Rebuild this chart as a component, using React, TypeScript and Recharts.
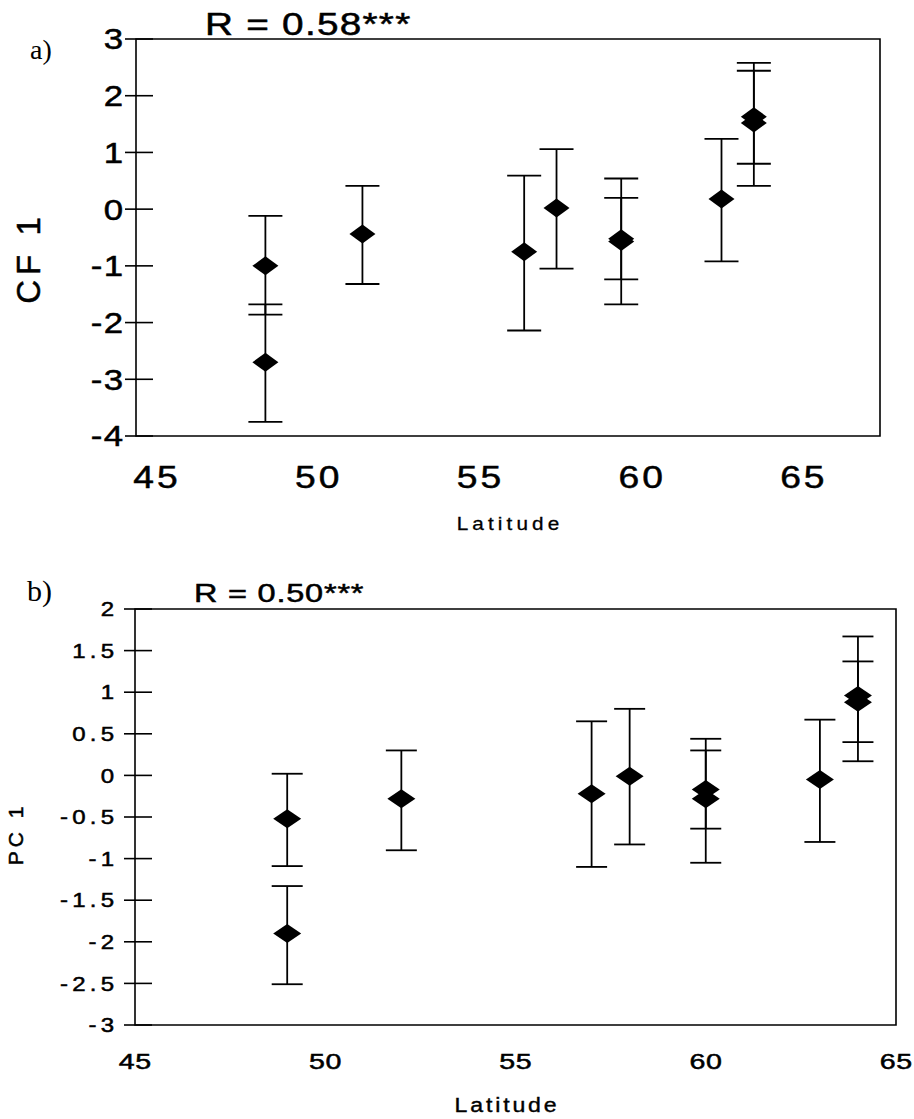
import React from 'react';
import { ScatterChart, Scatter, XAxis, YAxis, ErrorBar, ReferenceArea, Label } from 'recharts';

const SANS = '"Liberation Sans", Arial, Helvetica, sans-serif';
const SERIF = '"Liberation Serif", "Times New Roman", serif';

// ---- Panel a: CF 1 by latitude (mean with error bars) ----
const latA = [48.4, 48.4, 51.4, 56.4, 57.4, 59.4, 59.4, 62.5, 63.5, 63.5];
const cfA = [-1.0, -2.7, -0.44, -0.75, 0.02, -0.52, -0.57, 0.18, 1.63, 1.52];
const lowA = [-1.86, -3.75, -1.32, -2.14, -1.05, -1.24, -1.68, -0.92, 0.8, 0.41];
const highA = [-0.12, -1.68, 0.41, 0.59, 1.06, 0.2, 0.54, 1.24, 2.44, 2.58];
const xTicksA = [45, 50, 55, 60, 65];
const yTicksA = [3, 2, 1, 0, -1, -2, -3, -4];
const xDomainA: [number, number] = [44.4, 67.4];
const yDomainA: [number, number] = [-4, 3];

// ---- Panel b: PC 1 by latitude ----
const latB = [49, 49, 52, 57, 58, 60, 60, 63, 64, 64];
const pcB = [-0.52, -1.9, -0.28, -0.22, -0.01, -0.17, -0.28, -0.05, 0.96, 0.88];
const lowB = [-1.09, -2.51, -0.9, -1.1, -0.83, -0.64, -1.05, -0.8, 0.17, 0.4];
const highB = [0.02, -1.33, 0.3, 0.65, 0.8, 0.3, 0.44, 0.67, 1.67, 1.37];
const xTicksB = [45, 50, 55, 60, 65];
const yTicksB = [2, 1.5, 1, 0.5, 0, -0.5, -1, -1.5, -2, -2.5, -3];
const xDomainB: [number, number] = [45, 65];
const yDomainB: [number, number] = [-3, 2];

type Row = { lat: number; val: number; err: [number, number] };

function rows(lat: number[], val: number[], low: number[], high: number[]): Row[] {
  return lat.map((x, i) => ({
    lat: x,
    val: val[i],
    err: [val[i] - low[i], high[i] - val[i]],
  }));
}

const dataA = rows(latA, cfA, lowA, highA);
const dataB = rows(latB, pcB, lowB, highB);

// filled diamond marker
const diamond = (w: number, h: number) => (props: any) => {
  const { cx, cy } = props;
  if (cx == null || cy == null) return <g />;
  return (
    <path
      d={`M${cx - w / 2},${cy}L${cx},${cy - h / 2}L${cx + w / 2},${cy}L${cx},${cy + h / 2}Z`}
      fill="#000"
    />
  );
};

// horizontally widened text with a slightly heavier stroke
function WideText(props: any) {
  const { x, y, sx = 1, rotate = 0, weight = 0.5, children, ...rest } = props;
  const t = rotate
    ? `translate(${x},${y}) rotate(${rotate}) scale(${sx},1)`
    : `translate(${x},${y}) scale(${sx},1)`;
  return (
    <text transform={t} fill="#000" stroke="#000" strokeWidth={weight} {...rest}>
      {children}
    </text>
  );
}

// y tick: a line crossing the axis plus a right-aligned label
const makeYTick = (fontSize: number, gap: number, ls: number, sx: number) => (props: any) => {
  const { x, y, payload } = props;
  return (
    <g>
      <line x1={x - 11} x2={x + 17} y1={y} y2={y} stroke="#000" strokeWidth={1.6} />
      <WideText
        x={x - gap + ls * sx}
        y={y + fontSize * 0.36}
        sx={sx}
        textAnchor="end"
        fontSize={fontSize}
        fontFamily={SANS}
        letterSpacing={ls}
      >
        {String(payload.value)}
      </WideText>
    </g>
  );
};

const makeXTick = (fontSize: number, dy: number, ls: number, sx: number) => (props: any) => {
  const { x, y, payload } = props;
  return (
    <WideText
      x={x + (ls * sx) / 2}
      y={y + dy}
      sx={sx}
      textAnchor="middle"
      fontSize={fontSize}
      fontFamily={SANS}
      letterSpacing={ls}
    >
      {String(payload.value)}
    </WideText>
  );
};

export default function App() {
  return (
    <div style={{ position: 'absolute', left: 0, top: 0, width: 914, height: 1119, background: '#fff' }}>
      {/* a) CF 1 */}
      <div style={{ position: 'absolute', left: 0, top: 0 }}>
        <ScatterChart width={914} height={560} margin={{ top: 39, right: 34, bottom: 94, left: 76 }}>
          <XAxis
            dataKey="lat"
            type="number"
            domain={xDomainA}
            ticks={xTicksA}
            interval={0}
            allowDataOverflow
            height={30}
            tickSize={0}
            tickMargin={0}
            axisLine={false}
            tickLine={false}
            tick={makeXTick(31, 52, 2.5, 1.2)}
          >
            <Label
              content={() => (
                <WideText x={510} y={530} sx={1.15} weight={0.3} textAnchor="middle" fontSize={18} fontFamily={SANS} letterSpacing={3.6}>
                  Latitude
                </WideText>
              )}
            />
          </XAxis>
          <YAxis
            dataKey="val"
            type="number"
            domain={yDomainA}
            ticks={yTicksA}
            interval={0}
            allowDataOverflow
            width={60}
            tickSize={0}
            tickMargin={0}
            axisLine={false}
            tickLine={false}
            tick={makeYTick(29, 13, 1, 1.2)}
          >
            <Label
              content={() => (
                <WideText x={40} y={258} rotate={-90} textAnchor="middle" fontSize={33} fontFamily={SANS} letterSpacing={5}>
                  CF 1
                </WideText>
              )}
            />
          </YAxis>
          <ReferenceArea
            x1={xDomainA[0]}
            x2={xDomainA[1]}
            y1={yDomainA[0]}
            y2={yDomainA[1]}
            fill="none"
            fillOpacity={0}
            stroke="#000"
            strokeWidth={1.6}
            ifOverflow="visible"
          />
          <Scatter data={dataA} shape={diamond(26, 19)} isAnimationActive={false}>
            <ErrorBar dataKey="err" direction="y" width={17} stroke="#000" strokeWidth={1.8} isAnimationActive={false} />
          </Scatter>
        </ScatterChart>
      </div>

      {/* b) PC 1 */}
      <div style={{ position: 'absolute', left: 0, top: 540 }}>
        <ScatterChart width={914} height={579} margin={{ top: 69, right: 18, bottom: 64, left: 75 }}>
          <XAxis
            dataKey="lat"
            type="number"
            domain={xDomainB}
            ticks={xTicksB}
            interval={0}
            allowDataOverflow
            height={30}
            tickSize={0}
            tickMargin={0}
            axisLine={false}
            tickLine={false}
            tick={makeXTick(22, 44, 0.5, 1.3)}
          >
            <Label
              content={() => (
                <WideText x={507} y={572} sx={1.1} weight={0.4} textAnchor="middle" fontSize={21} fontFamily={SANS} letterSpacing={2.6}>
                  Latitude
                </WideText>
              )}
            />
          </XAxis>
          <YAxis
            dataKey="val"
            type="number"
            domain={yDomainB}
            ticks={yTicksB}
            interval={0}
            allowDataOverflow
            width={60}
            tickSize={0}
            tickMargin={0}
            axisLine={false}
            tickLine={false}
            tick={makeYTick(20, 21, 3.5, 1.2)}
          >
            <Label
              content={() => (
                <WideText x={23} y={294} rotate={-90} textAnchor="middle" fontSize={21} fontFamily={SANS} letterSpacing={4}>
                  PC 1
                </WideText>
              )}
            />
          </YAxis>
          <ReferenceArea
            x1={xDomainB[0]}
            x2={xDomainB[1]}
            y1={yDomainB[0]}
            y2={yDomainB[1]}
            fill="none"
            fillOpacity={0}
            stroke="#000"
            strokeWidth={1.6}
            ifOverflow="visible"
          />
          <Scatter data={dataB} shape={diamond(28, 19)} isAnimationActive={false}>
            <ErrorBar dataKey="err" direction="y" width={15.5} stroke="#000" strokeWidth={1.8} isAnimationActive={false} />
          </Scatter>
        </ScatterChart>
      </div>

      {/* panel letters and correlation coefficients */}
      <svg width={914} height={1119} style={{ position: 'absolute', left: 0, top: 0, pointerEvents: 'none' }}>
        <text x={30} y={59} fontSize={28} fontFamily={SERIF} fill="#000">a)</text>
        <WideText x={205} y={35} sx={1.25} fontSize={31} fontFamily={SANS} letterSpacing={1}>
          R = 0.58***
        </WideText>
        <text x={27} y={601} fontSize={30} fontFamily={SERIF} fill="#000">b)</text>
        <WideText x={194} y={602} sx={1.3} fontSize={25} fontFamily={SANS} letterSpacing={0.6}>
          R = 0.50***
        </WideText>
      </svg>
    </div>
  );
}
